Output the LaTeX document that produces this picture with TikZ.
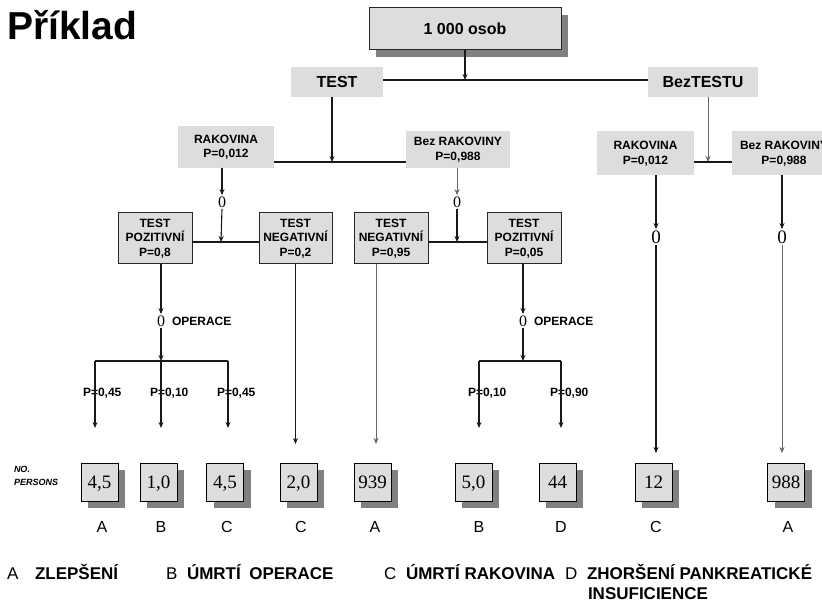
\documentclass[tikz,border=0pt]{standalone}
\usepackage{fontspec}
\setmainfont{Liberation Sans}
\newfontfamily\serifnum{Liberation Serif}
\usetikzlibrary{arrows.meta,shadows}
\definecolor{boxgray}{HTML}{DDDDDD}
\definecolor{shadowgray}{HTML}{808080}
\begin{document}
\begin{tikzpicture}[x=1pt,y=-1pt,
  every node/.style={inner sep=0pt, outer sep=0pt},
  ln/.style={line width=1.1pt, draw=black!90},
  lnl/.style={line width=0.6pt, draw=black!60},
  tip/.style={-{Stealth[length=6pt,width=5pt]}},
  gbox/.style={fill=boxgray, align=center},
  bbox/.style={draw=black!85, line width=1pt, fill=boxgray, align=center},
  big/.style={font=\bfseries\fontsize{16}{19}\selectfont},
  small/.style={font=\bfseries\fontsize{12}{14.5}\selectfont},
  lab/.style={font=\bfseries\fontsize{12}{14}\selectfont, anchor=west},
  valbox/.style={draw=black, line width=0.9pt, fill=boxgray, minimum width=37pt, minimum height=38pt,
     font=\serifnum\fontsize{19}{20}\selectfont, text height=12.8pt, text depth=0pt,
     general shadow={fill=shadowgray, shadow xshift=7pt, shadow yshift=-7pt}},
  zero/.style={font=\serifnum\fontsize{16}{16}\selectfont, inner sep=1.5pt},
  bigzero/.style={font=\serifnum\fontsize{19}{19}\selectfont, inner sep=1.5pt},
  letter/.style={font=\fontsize{16}{16}\selectfont},
  legend/.style={font=\bfseries\fontsize{17}{21}\selectfont, anchor=base west},
  legendl/.style={font=\fontsize{17}{21}\selectfont, anchor=base west}
]
\fill[white] (0,0) rectangle (822,601);
\useasboundingbox (0,0) rectangle (822,601);
\clip (0,0) rectangle (822,601);

% title
\node[font=\bfseries\fontsize{39}{41}\selectfont, anchor=base west] (title) at (7,40) {Příklad};

% top level
\node[bbox, big, minimum width=192pt, minimum height=42pt,
      general shadow={fill=shadowgray, shadow xshift=7pt, shadow yshift=-7pt}] (top) at (465,29) {1 000 osob};
\node[gbox, big, minimum width=92pt, minimum height=30pt] (test) at (337,82) {TEST};
\node[gbox, big, minimum width=110pt, minimum height=30pt] (beztest) at (703,82) {BezTESTU};
\coordinate (j0) at (465,80);
\draw[ln,tip] (top.south) -- (j0);
\draw[ln] (test.east |- j0) -- (beztest.west |- j0);

% second level
\node[gbox, small, minimum width=96pt, minimum height=42pt] (rak1) at (226,147) {RAKOVINA\\P=0,012};
\node[gbox, small, minimum width=104pt, minimum height=37pt] (bez1) at (458,149.5) {Bez RAKOVINY\\P=0,988};
\node[gbox, small, minimum width=97pt, minimum height=44pt] (rak2) at (645.5,153.5) {RAKOVINA\\P=0,012};
\node[gbox, small, minimum width=104pt, minimum height=44pt] (bez2) at (784,153.5) {Bez RAKOVINY\\P=0,988};
\coordinate (j1) at (332,162);
\coordinate (j2) at (708,162);
\draw[ln,tip] (test.south -| j1) -- (j1);
\draw[ln] (rak1.east |- j1) -- (bez1.west |- j1);
\draw[lnl,tip] (beztest.south -| j2) -- (j2);
\draw[ln] (rak2.east |- j2) -- (bez2.west |- j2);

% chance nodes
\node[zero] (z1) at (222,202) {0};
\node[zero] (z2) at (457,202) {0};
\node[bigzero] (z3) at (656,237) {0};
\node[bigzero] (z4) at (782,237) {0};
\draw[ln,tip] (rak1.south -| z1) -- (z1.north);
\draw[lnl,tip] (bez1.south -| z2) -- (z2.north);
\draw[ln,tip] (rak2.south -| z3) -- (z3.north);
\draw[ln,tip] (bez2.south -| z4) -- (z4.north);

% test result boxes
\node[bbox, small, minimum width=74pt, minimum height=51pt] (pos1) at (155,238.5) {TEST\\POZITIVNÍ\\P=0,8};
\node[bbox, small, minimum width=73pt, minimum height=51pt] (neg1) at (295.5,238.5) {TEST\\NEGATIVNÍ\\P=0,2};
\node[bbox, small, minimum width=74pt, minimum height=51pt] (neg2) at (391,238.5) {TEST\\NEGATIVNÍ\\P=0,95};
\node[bbox, small, minimum width=74pt, minimum height=51pt] (pos2) at (524,238.5) {TEST\\POZITIVNÍ\\P=0,05};
\coordinate (j3) at (221,242);
\coordinate (j4) at (457,242);
\draw[ln,tip] (z1.south) -- (j3);
\draw[ln] (pos1.east |- j3) -- (neg1.west |- j3);
\draw[ln,tip] (z2.south) -- (j4);
\draw[ln] (neg2.east |- j4) -- (pos2.west |- j4);

% operation nodes
\node[zero] (o1) at (161,321) {0};
\node[zero] (o2) at (523,321) {0};
\node[lab] (op1) at (172,321) {OPERACE};
\node[lab] (op2) at (534,321) {OPERACE};
\draw[ln,tip] (pos1.south -| o1) -- (o1.north);
\draw[ln,tip] (pos2.south -| o2) -- (o2.north);
\coordinate (j5) at (161,361);
\coordinate (j6) at (523,361);
\draw[ln,tip] (o1.south) -- (j5);
\draw[ln,tip] (o2.south) -- (j6);

% probability labels
\node[lab] (p1) at (83,393) {P=0,45};
\node[lab] (p2) at (150,393) {P=0,10};
\node[lab] (p3) at (217,393) {P=0,45};
\node[lab] (p4) at (468,393) {P=0,10};
\node[lab] (p5) at (550,393) {P=0,90};

\coordinate (b1) at (95,361);
\coordinate (b3) at (228,361);
\coordinate (b4) at (479,361);
\coordinate (b5) at (561,361);
\draw[ln] (b1) -- (b3);
\draw[ln] (b4) -- (b5);

% value boxes
\node[valbox] (v1) at (99.5,482) {4,5};
\node[valbox] (v2) at (158.5,482) {1,0};
\node[valbox] (v3) at (225,482) {4,5};
\node[valbox] (v4) at (298.5,482) {2,0};
\node[valbox] (v5) at (372.5,482) {939};
\node[valbox] (v6) at (473.5,482) {5,0};
\node[valbox] (v7) at (557.5,482) {44};
\node[valbox] (v8) at (653.5,482) {12};
\node[valbox] (v9) at (786,482) {988};

\draw[ln,tip] (b1) -- ++(0,67);
\draw[ln,tip] (j5) -- ++(0,67);
\draw[ln,tip] (b3) -- ++(0,67);
\draw[ln,tip] (b4) -- ++(0,67);
\draw[ln,tip] (b5) -- ++(0,67);
\draw[ln,tip] (neg1.south) -- ++(0,180);
\draw[lnl,tip] (neg2.south -| 376,0) -- ++(0,180);
\draw[ln,tip] (z3.south) -- (656,453);
\draw[lnl,tip] (z4.south) -- (782,453);

% NO. PERSONS
\node[font=\bfseries\itshape\fontsize{9}{13}\selectfont, anchor=west, align=left] (np) at (14,476) {NO.\\PERSONS};

% letters under boxes
\node[letter] (l1) at (102,527) {A};
\node[letter] (l2) at (161,527) {B};
\node[letter] (l3) at (227,527) {C};
\node[letter] (l4) at (301,527) {C};
\node[letter] (l5) at (375,527) {A};
\node[letter] (l6) at (479,527) {B};
\node[letter] (l7) at (561,527) {D};
\node[letter] (l8) at (656,527) {C};
\node[letter] (l9) at (788,527) {A};

% legend
\node[legendl] (la) at (7,579) {A};
\node[legend] (lA) at (35,579) {ZLEPŠENÍ};
\node[legendl] (lb) at (166,579) {B};
\node[legend] (lB) at (187,579) {ÚMRTÍ\hspace{0.5em}OPERACE};
\node[legendl] (lc) at (384,579) {C};
\node[legend] (lC) at (406,579) {ÚMRTÍ RAKOVINA};
\node[legendl] (ld) at (565,579) {D};
\node[legend] (lD) at (587,579) {ZHORŠENÍ PANKREATICKÉ};
\node[legend] (lD2) at (588,599) {INSUFICIENCE};
\end{tikzpicture}
\end{document}
